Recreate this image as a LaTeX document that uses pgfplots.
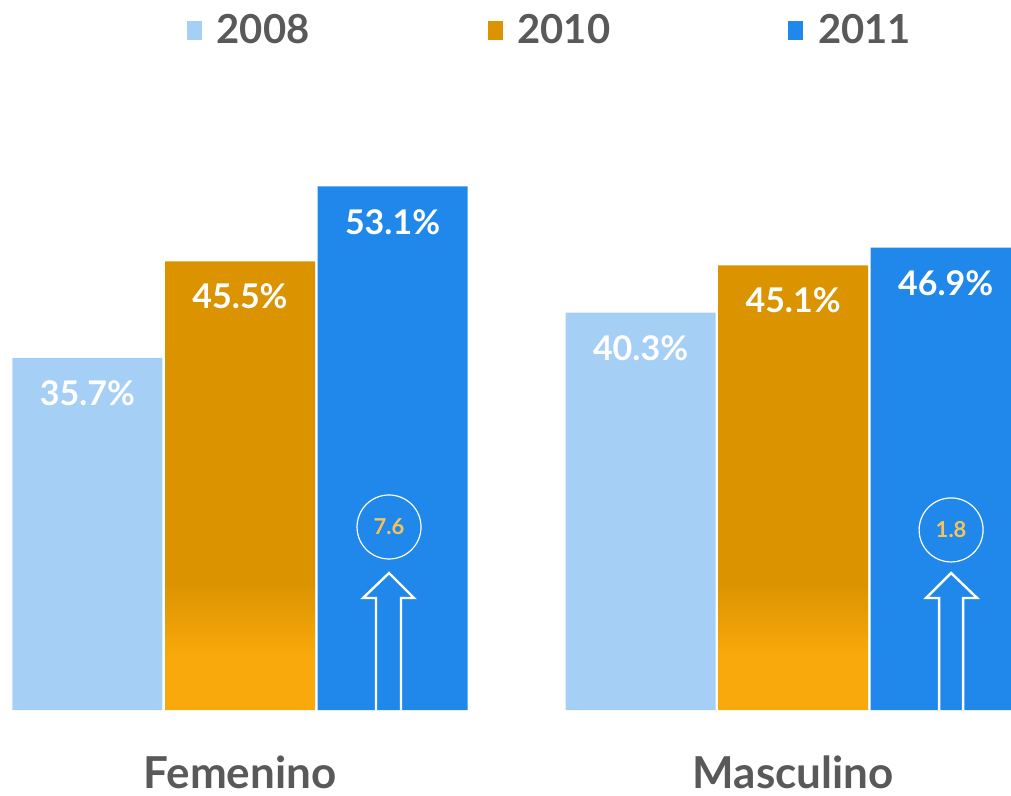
\documentclass[border=0pt]{standalone}
\usepackage{pgfplots}
\pgfplotsset{compat=1.18}
\usepackage{fontspec}
\setmainfont{Lato}

\definecolor{c2008}{HTML}{A6CFF6}
\definecolor{c2010}{HTML}{DB9400}
\definecolor{c2010b}{HTML}{F9A90B}
\definecolor{c2011}{HTML}{1F88EA}
\definecolor{txtgray}{HTML}{595959}
\definecolor{gold}{HTML}{F5C35E}
% orange bars: dark top, brighter band near the base
\pgfdeclareverticalshading{orangebar}{100bp}{color(0bp)=(c2010b); color(31bp)=(c2010b); color(39bp)=(c2010); color(100bp)=(c2010)}

\begin{document}
\begin{tikzpicture}
\begin{axis}[
    scale only axis, width=505.5pt, height=397.5pt,
    xmin=-0.434, xmax=1.394, ymin=-8.62, ymax=72,
    hide axis,
    ybar, bar width=0.2712,
    /pgf/number format/assume math mode=true,
    nodes near coords={\pgfmathprintnumber[fixed,precision=1,fixed zerofill,assume math mode=true]{\pgfplotspointmeta}\%},
    every node near coord/.append style={anchor=center, yshift=-17.7pt, text=white,
        font=\fontsize{17}{17}\selectfont\bfseries},
    legend image code/.code={\fill[#1, draw=none] (0pt,-4.8pt) rectangle (7.5pt,4.8pt);},
    legend columns=3,
    legend style={at={(0.545,0.962)}, anchor=center, draw=none, fill=none,
        font=\fontsize{20}{20}\selectfont\bfseries, text=txtgray,
        /tikz/every even column/.append style={column sep=87pt},
        /tikz/every odd column/.append style={column sep=5.5pt}},
]
\addlegendimage{fill=c2008}
\addlegendimage{fill=c2010}
\addlegendimage{fill=c2011}
% 2008
\addplot[forget plot, fill=c2008, draw=none, bar shift=-0.2758] coordinates {(0,35.7) (1,40.3)};
% 2010
\addplot[forget plot, shading=orangebar, draw=none, bar shift=0] coordinates {(0,45.5) (1,45.1)};
% 2011
\addplot[forget plot, fill=c2011, draw=none, bar shift=0.2758] coordinates {(0,53.1) (1,46.9)};
\legend{2008,2010,2011}

% change markers inside the 2011 bars
\draw[white, line width=0.6pt] (axis cs:0.2694,18.56) circle[radius=16pt];
\node[text=gold, font=\fontsize{11}{11}\selectfont\bfseries] at (axis cs:0.2694,18.56) {7.6};
\draw[white, line width=1.2pt] (axis cs:0.2459,0) -- (axis cs:0.2459,11.36) -- (axis cs:0.2224,11.36)
    -- (axis cs:0.2694,13.89) -- (axis cs:0.3146,11.36) -- (axis cs:0.2911,11.36) -- (axis cs:0.2911,0);
\draw[white, line width=0.6pt] (axis cs:1.2857,18.26) circle[radius=16pt];
\node[text=gold, font=\fontsize{11}{11}\selectfont\bfseries] at (axis cs:1.2857,18.26) {1.8};
\draw[white, line width=1.2pt] (axis cs:1.2640,0) -- (axis cs:1.2640,11.36) -- (axis cs:1.2405,11.36)
    -- (axis cs:1.2857,13.89) -- (axis cs:1.3327,11.36) -- (axis cs:1.3074,11.36) -- (axis cs:1.3074,0);

\node[text=txtgray, font=\fontsize{22}{22}\selectfont\bfseries] at (axis cs:0,-6.3) {Femenino};
\node[text=txtgray, font=\fontsize{22}{22}\selectfont\bfseries] at (axis cs:1,-6.3) {Masculino};
\end{axis}
\pgfresetboundingbox
\path (current axis.south west) rectangle (current axis.north east);
\end{tikzpicture}
\end{document}
